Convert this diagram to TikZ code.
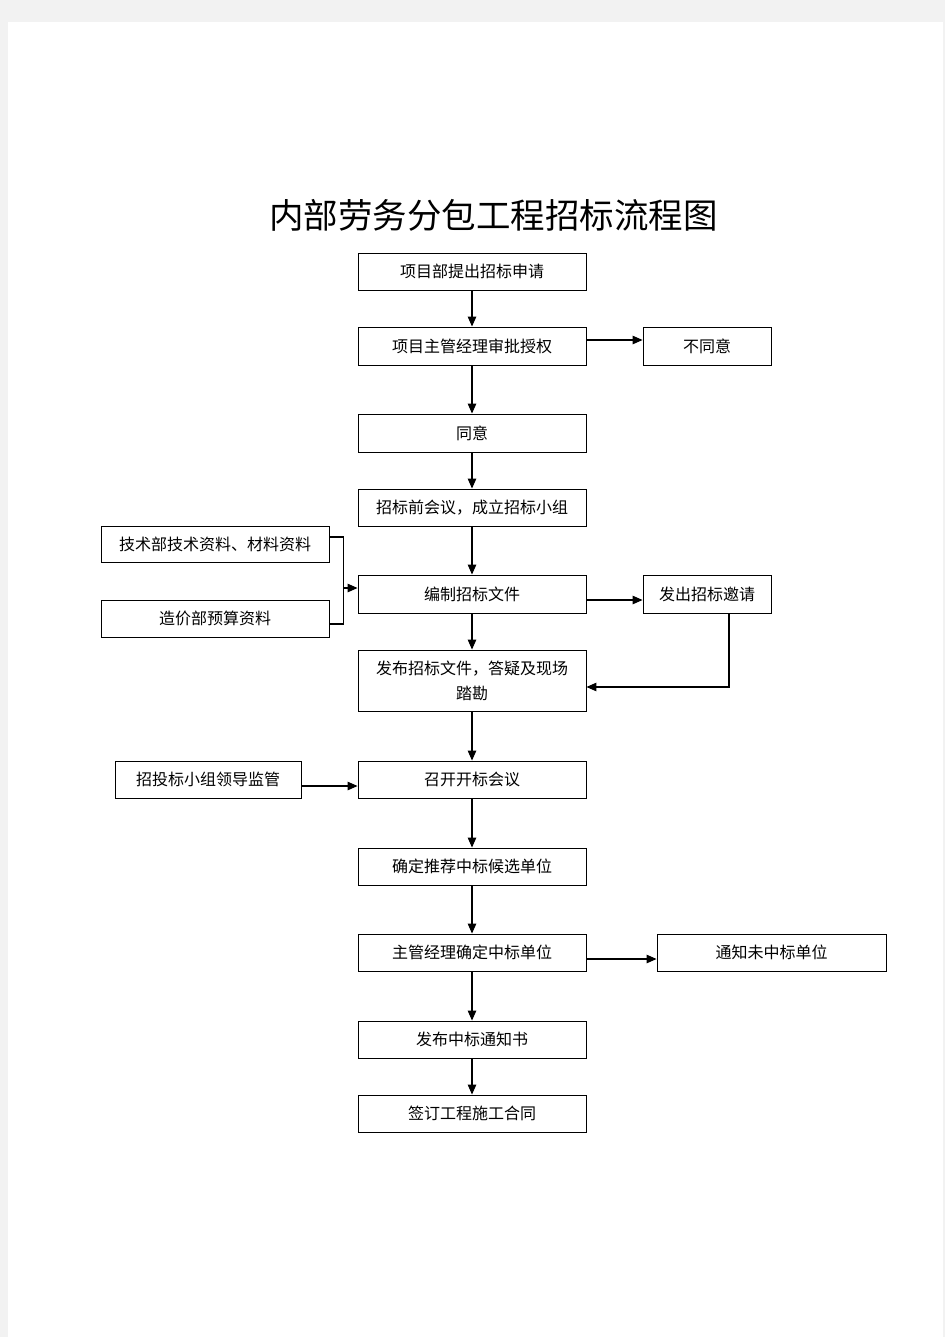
\documentclass[tikz,border=0pt]{standalone}
\usepackage{fontspec}
\newfontfamily\cjk{Noto Sans CJK SC}
\usetikzlibrary{arrows.meta}
\begin{document}
\begin{tikzpicture}[x=1pt,y=-1pt,
  box/.style={draw=black,line width=0.9pt,fill=white,minimum width=228pt,minimum height=37pt,inner sep=0pt,font=\cjk\fontsize{16}{25}\selectfont,align=center},
  arr/.style={draw=black,line width=1.2pt,-{Triangle[length=10pt,width=8.5pt]}},
  ln/.style={draw=black,line width=1.1pt}]
\fill[black!5] (0,0) rectangle (945,1337);
\fill[white] (8,22) rectangle (943,1337);
\useasboundingbox (0,0) rectangle (945,1337);
\node[font=\cjk\fontsize{34.5}{36}\selectfont] (title) at (493.5,215) {内部劳务分包工程招标流程图};
\node[box] (n1) at (472,271.5) {项目部提出招标申请};
\node[box,minimum height=38pt] (n2) at (472,346) {项目主管经理审批授权};
\node[box,minimum height=38pt] (n3) at (472,433) {同意};
\node[box] (n4) at (472,507.5) {招标前会议，成立招标小组};
\node[box,minimum height=38pt] (n5) at (472,594) {编制招标文件};
\node[box,minimum height=61pt] (n6) at (472,680.5) {发布招标文件，答疑及现场\\踏勘};
\node[box] (n7) at (472,779.5) {召开开标会议};
\node[box] (n8) at (472,866.5) {确定推荐中标候选单位};
\node[box] (n9) at (472,952.5) {主管经理确定中标单位};
\node[box] (n10) at (472,1039.5) {发布中标通知书};
\node[box] (n11) at (472,1113.5) {签订工程施工合同};
\node[box,minimum width=128pt,minimum height=38pt] (no) at (707,346) {不同意};
\node[box,minimum width=128pt,minimum height=38pt] (inv) at (707,594) {发出招标邀请};
\node[box,minimum height=36pt] (tech) at (215,544) {技术部技术资料、材料资料};
\node[box] (cost) at (215,618.5) {造价部预算资料};
\node[box,minimum width=186pt] (lead) at (208,779.5) {招投标小组领导监管};
\node[box,minimum width=229pt] (fail) at (771.5,952.5) {通知未中标单位};
% main column
\draw[arr] (n1) -- (n2);
\draw[arr] (n2) -- (n3);
\draw[arr] (n3) -- (n4);
\draw[arr] (n4) -- (n5);
\draw[arr] (n5) -- (n6);
\draw[arr] (n6) -- (n7);
\draw[arr] (n7) -- (n8);
\draw[arr] (n8) -- (n9);
\draw[arr] (n9) -- (n10);
\draw[arr] (n10) -- (n11);
% side arrows
\draw[arr] ([yshift=6pt]n2.east) -- ([yshift=6pt]no.west);
\draw[arr] ([yshift=-6pt]n5.east) -- ([yshift=-6pt]inv.west);
\draw[arr] ([xshift=22pt]inv.south) |- ([yshift=-6.5pt]n6.east);
\draw[arr] ([yshift=-6.5pt]lead.east) -- ([yshift=-6.5pt]n7.west);
\draw[arr] ([yshift=-6.5pt]n9.east) -- ([yshift=-6.5pt]fail.west);
% bracket
\coordinate (bt) at ([yshift=7pt,xshift=14pt]tech.east);
\coordinate (bb) at ([yshift=-5.5pt,xshift=14pt]cost.east);
\draw[ln] ([yshift=7pt]tech.east) -- (bt) -- (bb) -- ([yshift=-5.5pt]cost.east);
\coordinate (bm) at ([yshift=6pt]bt |- n5.west);
\draw[arr] (bm) -- (n5.west |- bm);
\end{tikzpicture}
\end{document}
